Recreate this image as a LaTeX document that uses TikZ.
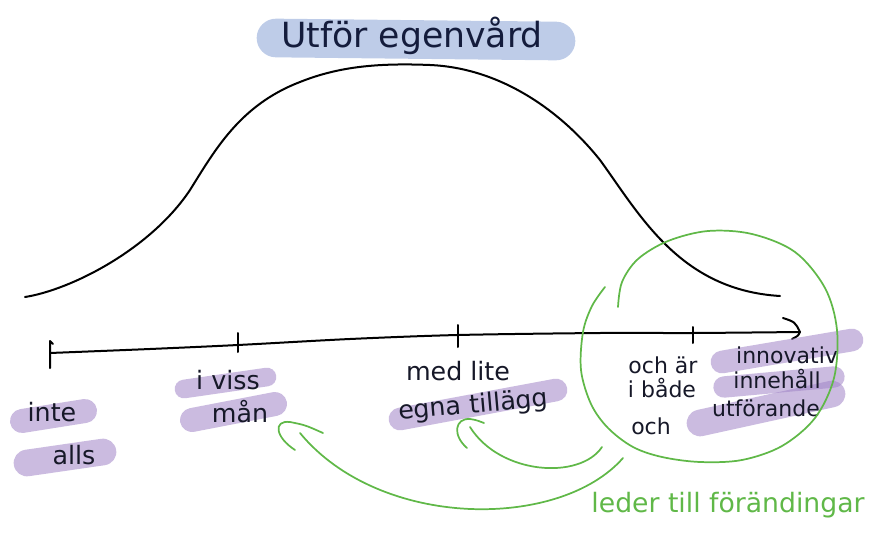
\documentclass[tikz,border=0pt]{standalone}
\usepackage{fontspec}
\setmainfont{DejaVu Sans}
\definecolor{ink}{RGB}{22,24,40}
\definecolor{titleink}{RGB}{20,28,60}
\definecolor{hlpurple}{RGB}{160,132,198}
\definecolor{hlblue}{RGB}{190,204,232}
\definecolor{grn}{RGB}{96,184,72}
\begin{document}
\begin{tikzpicture}[x=0.75pt,y=-0.75pt,
  lbl/.style={font=\fontsize{19}{22}\selectfont, text=ink, inner sep=0pt, anchor=base},
  slbl/.style={font=\fontsize{16.5}{19}\selectfont, text=ink, inner sep=0pt, anchor=base},
  ttl/.style={font=\fontsize{26}{30}\selectfont, text=titleink, inner sep=0pt, anchor=base},
  gtxt/.style={font=\fontsize{20}{23}\selectfont, text=grn, inner sep=0pt, anchor=base},
  hlp/.style={draw=hlpurple, draw opacity=0.55, line cap=round, line width=#1},
  pen/.style={draw=black, line width=1.5pt, line cap=round, line join=round},
  gpen/.style={draw=grn, line width=1.3pt, line cap=round, line join=round}]
\useasboundingbox (0,0) rectangle (875,535);

% title highlight and title
\draw[hlblue, line width=29pt, line cap=round] (276,38) -- (556,41);
\node[ttl] (title) at (412,48) {Utför egenvård};

% bell curve
\draw[pen] (25,297) .. controls (70,290) and (150,250) .. (190,190)
  .. controls (215,150) and (240,105) .. (300,82)
  .. controls (340,66) and (380,63) .. (430,65)
  .. controls (500,68) and (560,110) .. (600,160)
  .. controls (640,215) and (680,290) .. (780,296);

% axis
\coordinate (a0) at (50,353);
\coordinate (a1) at (238,345);
\coordinate (a2) at (458,335);
\coordinate (a3) at (693,333);
\coordinate (aend) at (800,332);
\draw[pen] plot[smooth] coordinates {(a0) (150,349) (a1) (350,339) (a2) (600,333) (a3) (aend)};
\draw[pen] (50,368) -- (50,341) -- (53,344);
\draw[pen] (238,333) -- (238,352);
\draw[pen] (458,325) -- (458,347);
\draw[pen] (693,327) -- (693,343);
\draw[pen] (783,318) .. controls (795,322) .. (aend) .. controls (798,336) .. (792,339);

% purple highlights
\draw[hlp=18pt] (22,421) -- (85,411);
\draw[hlp=20pt] (27,463) -- (103,452);
\draw[hlp=14pt] (184,389) -- (267,377);
\draw[hlp=18pt] (192,420) -- (275,404);
\draw[hlp=17pt] (400,419) -- (556,390);
\draw[hlp=17pt] (722,362) -- (852,340);
\draw[hlp=16pt] (724,387) -- (834,377);
\draw[hlp=20pt] (700,423) -- (832,394);

% labels
\node[lbl] (inte) at (52,421) {inte};
\node[lbl] (alls) at (74,464) {alls};
\node[lbl] (iviss) at (228,389) {i viss};
\node[lbl] (man) at (240,422) {mån};
\node[lbl] (medlite) at (458,380) {med lite};
\node[lbl, rotate=5] (egna) at (474,413) {egna tillägg};
\node[slbl] (ochar) at (663,373) {och är};
\node[slbl] (ibade) at (662,397) {i både};
\node[slbl] (och) at (651,434) {och};
\node[slbl] (innov) at (787,363) {innovativ};
\node[slbl] (inneh) at (777,388) {innehåll};
\node[slbl] (utfor) at (766,416) {utförande};
\node[gtxt] (leder) at (728,512) {leder till förändingar};

% green circle
\draw[gpen] plot[smooth, tension=0.55] coordinates {(618,307) (622,282) (638,259) (668,241) (708,231) (752,234) (795,252) (825,288) (837,330) (834,378) (815,418) (782,446) (742,460) (700,462) (662,457) (633,447) (608,428) (591,404) (581,370) (583,332) (592,306) (605,287)};

% green arrows
\coordinate (s1) at (602,447);
\coordinate (e1) at (470,427);
\coordinate (s2) at (623,458);
\coordinate (e2) at (300,433);
\draw[gpen] (s1) .. controls (580,480) and (500,475) .. (e1);
\draw[gpen] (467,448) .. controls (452,435) and (455,418) .. (470,419) .. controls (476,420) .. (484,423);
\draw[gpen] (s2) .. controls (560,530) and (380,530) .. (e2);
\draw[gpen] (295,450) .. controls (275,437) and (273,420) .. (290,422) .. controls (305,425) .. (323,433);
\end{tikzpicture}
\end{document}
